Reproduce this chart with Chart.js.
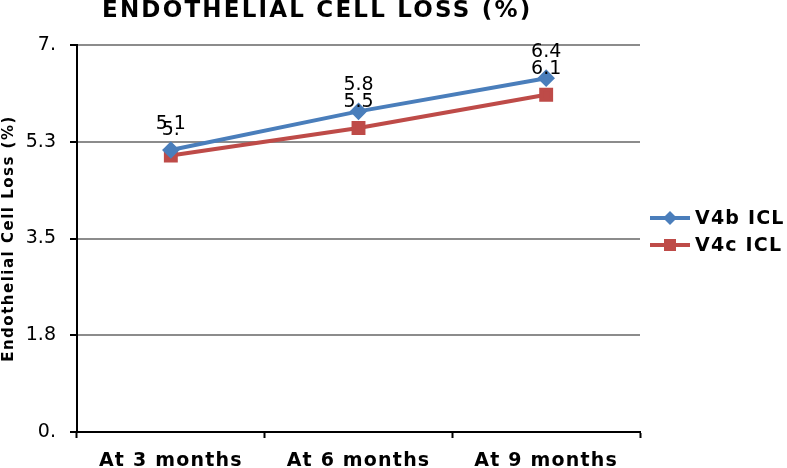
<!DOCTYPE html>
<html>
<head>
<meta charset="utf-8">
<script src="https://cdn.jsdelivr.net/npm/chart.js@4"></script>
<style>
  html, body { margin: 0; padding: 0; background: #fff; }
  #wrap { width: 787px; height: 468px; position: relative; }
</style>
</head>
<body>
<div id="wrap"><canvas id="c" width="787" height="468"></canvas></div>
<script>
const categories = ['At 3 months', 'At 6 months', 'At 9 months'];
const seriesNames = ['V4b ICL', 'V4c ICL'];
const v4bValues = [5.1, 5.8, 6.4];
const v4cValues = [5.0, 5.5, 6.1];
const yTickMin = 0;
const yTickMax = 7;
const yTickStep = 1.75;
const chartTitle = 'ENDOTHELIAL CELL LOSS (%)';
const yAxisTitle = 'Endothelial Cell Loss (%)';

const FONT = '"DejaVu Sans", Verdana, sans-serif';
const BLUE = '#4A7EBB';
const RED = '#BE4B48';

function fmt(v) {
  if (Math.abs(v - Math.round(v)) < 1e-9) return Math.round(v) + '.';
  return v.toFixed(1);
}

// Widen bold text a little to approximate Verdana Bold metrics
const canvas = document.getElementById('c');
const ctx2d = canvas.getContext('2d');
function spacingFor(font) {
  if (/bold/.test(font)) {
    const m = font.match(/(\d+(?:\.\d+)?)px/);
    const size = m ? parseFloat(m[1]) : 12;
    if (size >= 21) return '2.2px';
    if (size >= 18) return '1.2px';
    return '1.5px';
  }
  return '0px';
}
const origFill = ctx2d.fillText;
const origMeasure = ctx2d.measureText;
ctx2d.fillText = function (...a) { this.letterSpacing = spacingFor(this.font); return origFill.apply(this, a); };
ctx2d.measureText = function (...a) { this.letterSpacing = spacingFor(this.font); return origMeasure.apply(this, a); };

const titlePlugin = {
  id: 'customTitle',
  afterDraw(chart) {
    const ctx = chart.ctx;
    ctx.save();
    ctx.font = 'bold 23px ' + FONT;
    ctx.fillStyle = '#000';
    ctx.textAlign = 'left';
    ctx.textBaseline = 'middle';
    ctx.fillText(chartTitle, chart.chartArea.left + 25, 11);
    ctx.restore();
  }
};

const labelPlugin = {
  id: 'valueLabels',
  afterDatasetsDraw(chart) {
    const ctx = chart.ctx;
    ctx.save();
    ctx.font = '19px ' + FONT;
    ctx.fillStyle = '#000';
    ctx.textAlign = 'center';
    ctx.textBaseline = 'middle';
    chart.data.datasets.forEach((ds, i) => {
      const meta = chart.getDatasetMeta(i);
      meta.data.forEach((pt, j) => {
        ctx.fillText(fmt(ds.data[j]), pt.x, pt.y - 26);
      });
    });
    ctx.restore();
  }
};

// Legend drawn as line + marker with bold label, placed right of the plot area
const legendPlugin = {
  id: 'lineLegend',
  afterDraw(chart) {
    const ctx = chart.ctx;
    const area = chart.chartArea;
    const x0 = area.right + 10;
    const yMid = (area.top + area.bottom) / 2 - 7;
    ctx.save();
    chart.data.datasets.forEach((ds, i) => {
      const y = yMid + (i - 0.5) * 27;
      ctx.strokeStyle = ds.borderColor;
      ctx.lineWidth = 4;
      ctx.beginPath(); ctx.moveTo(x0, y); ctx.lineTo(x0 + 40, y); ctx.stroke();
      ctx.fillStyle = ds.borderColor;
      const cx = x0 + 20;
      if (ds.pointStyle === 'rectRot') {
        ctx.beginPath(); ctx.moveTo(cx, y - 7); ctx.lineTo(cx + 7, y); ctx.lineTo(cx, y + 7); ctx.lineTo(cx - 7, y); ctx.closePath(); ctx.fill();
      } else {
        ctx.fillRect(cx - 6, y - 6, 12, 12);
      }
      ctx.font = 'bold 19px ' + FONT;
      ctx.fillStyle = '#000';
      ctx.textAlign = 'left';
      ctx.textBaseline = 'middle';
      ctx.fillText(ds.label, x0 + 45, y + 1);
    });
    ctx.restore();
  }
};

new Chart(canvas, {
  type: 'line',
  data: {
    labels: categories,
    datasets: [
      {
        label: seriesNames[0], data: v4bValues,
        borderColor: BLUE, backgroundColor: BLUE, borderWidth: 4,
        pointStyle: 'rectRot', pointRadius: 6, pointHoverRadius: 6,
        tension: 0
      },
      {
        label: seriesNames[1], data: v4cValues,
        borderColor: RED, backgroundColor: RED, borderWidth: 4,
        pointStyle: 'rect', pointRadius: 7, pointHoverRadius: 7,
        tension: 0
      }
    ]
  },
  options: {
    responsive: false,
    animation: false,
    devicePixelRatio: 1,
    layout: { padding: { top: 45, right: 147, left: 0, bottom: 0 } },
    plugins: {
      title: { display: false },
      tooltip: { enabled: false },
      legend: { display: false }
    },
    scales: {
      x: {
        offset: true,
        border: { color: '#000', width: 2 },
        grid: { display: true, drawOnChartArea: false, drawTicks: true, tickLength: 6, offset: true, tickColor: '#000', tickWidth: 2 },
        ticks: { color: '#000', font: { family: FONT, size: 19, weight: 'bold' }, padding: 12, maxRotation: 0 },
        afterFit(s) { s.height = 36; }
      },
      y: {
        min: yTickMin, max: yTickMax,
        border: { color: '#000', width: 2 },
        grid: { color: '#8C8C8C', lineWidth: 2, tickLength: 7, tickColor: '#000', tickWidth: 2 },
        ticks: {
          stepSize: yTickStep,
          color: '#000',
          font: { family: FONT, size: 19 },
          padding: 14,
          callback: (v) => fmt(v)
        },
        title: {
          display: true, text: yAxisTitle, color: '#000',
          font: { family: FONT, size: 15, weight: 'bold' },
          padding: { top: 0, bottom: 0 }
        },
        afterFit(s) { s.width = 77; }
      }
    }
  },
  plugins: [titlePlugin, labelPlugin, legendPlugin]
});
</script>
</body>
</html>
